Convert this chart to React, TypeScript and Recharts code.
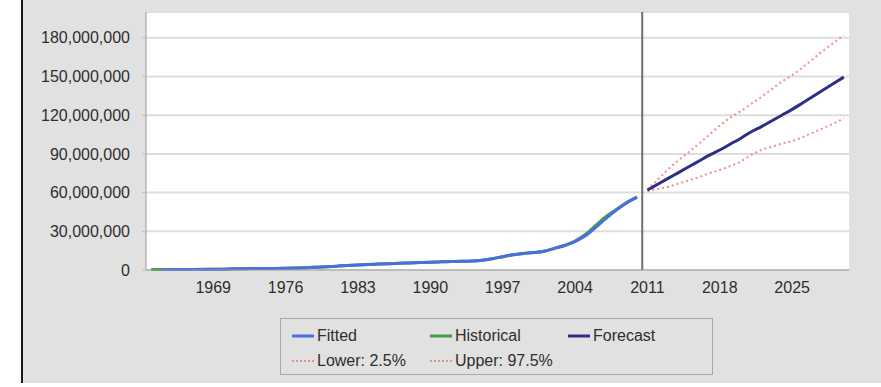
import React from "react";
import {
  LineChart,
  Line,
  XAxis,
  YAxis,
  CartesianGrid,
  ReferenceLine,
  Legend,
} from "recharts";

// Years covered by the chart (history 1963-2010, forecast 2011-2030)
const FIRST_YEAR = 1963;
const LAST_YEAR = 2030;
const years: number[] = Array.from(
  { length: LAST_YEAR - FIRST_YEAR + 1 },
  (_, i) => FIRST_YEAR + i
);

const xTicks = [1969, 1976, 1983, 1990, 1997, 2004, 2011, 2018, 2025];
const yTicks = [0, 30e6, 60e6, 90e6, 120e6, 150e6, 180e6];

// Boundary between the observed period and the forecast
const FORECAST_DIVIDER = 2010.5;

// Observed values, millions, 1963-2010
const historicalStart = 1963;
const historical = [
  0.3, 0.3, 0.35, 0.4, 0.4, 0.45, 0.5, 0.6, 1.0, 1.05, 1.1, 1.15, 1.2, 1.3, 1.5,
  1.8, 2.2, 2.6, 3.0, 3.4, 3.9, 4.3, 4.6, 4.9, 5.2, 5.5, 5.8, 6.1, 6.3, 6.5, 6.7,
  7.0, 7.6, 8.8, 10.3, 11.8, 12.8, 13.5, 14.6, 16.8, 19.0, 22.5, 27.5, 34.5,
  41.5, 47.0, 52.5, 56.5,
];

// Model fit, millions, 1964-2010
const fittedStart = 1964;
const fitted = [
  0.35, 0.4, 0.4, 0.45, 0.5, 0.55, 0.65, 0.95, 1.05, 1.1, 1.15, 1.2, 1.3, 1.5,
  1.8, 2.2, 2.6, 3.0, 3.4, 3.9, 4.3, 4.6, 4.9, 5.2, 5.5, 5.8, 6.1, 6.3, 6.5, 6.7,
  7.0, 7.6, 8.8, 10.3, 11.8, 12.8, 13.5, 14.6, 16.8, 19.0, 22.0, 26.5, 33.0,
  40.0, 46.5, 52.0, 56.5,
];

// Forecast with 95% band, millions, 2011-2030
const forecastStart = 2011;
const forecast = [
  62, 66.5, 71, 75.5, 80, 84.5, 89, 93, 97.5, 102, 107, 111, 115.5, 120, 124.5,
  129.5, 134.5, 139.5, 144.5, 149.5,
];
const lower = [
  61, 63, 64.5, 67, 69.5, 72, 75, 77.5, 80.5, 84, 89, 93, 95.5, 98, 100, 103,
  106.5, 110, 113.5, 117.5,
];
const upper = [
  62, 70, 78, 85, 91.5, 98, 105, 112, 118, 123, 128.5, 134, 140, 146, 151, 157,
  163.5, 170, 176, 182,
];

const at = (arr: number[], start: number, year: number) => {
  const i = year - start;
  return i >= 0 && i < arr.length ? arr[i] * 1e6 : undefined;
};

const rows = years.map((yr) => ({
  year: yr,
  historical: at(historical, historicalStart, yr),
  fitted: at(fitted, fittedStart, yr),
  forecast: at(forecast, forecastStart, yr),
  lower: at(lower, forecastStart, yr),
  upper: at(upper, forecastStart, yr),
}));

const FONT = "'Liberation Sans', Arial, sans-serif";
const TEXT = "#2e2e2e";

const COLORS = {
  fitted: "#4a6ee0",
  historical: "#3f9f3f",
  forecast: "#2b2f86",
  band: "#f08c8c",
};

const legendItems = [
  { label: "Fitted", color: COLORS.fitted, dotted: false },
  { label: "Historical", color: COLORS.historical, dotted: false },
  { label: "Forecast", color: COLORS.forecast, dotted: false },
  { label: "Lower: 2.5%", color: COLORS.band, dotted: true },
  { label: "Upper: 97.5%", color: COLORS.band, dotted: true },
];

const LegendBox = () => (
  <div
    style={{
      width: "100%",
      height: "100%",
      boxSizing: "border-box",
      border: "1px solid #a8a8a8",
      position: "relative",
      fontFamily: FONT,
      fontSize: 16,
      color: TEXT,
    }}
  >
    {legendItems.map((it, i) => {
      const col = i % 3;
      const row = Math.floor(i / 3);
      return (
        <div
          key={it.label}
          style={{
            position: "absolute",
            left: 11 + col * 138,
            top: 7 + row * 25,
            height: 20,
            display: "flex",
            alignItems: "center",
            whiteSpace: "nowrap",
          }}
        >
          <svg width={22} height={6} style={{ marginRight: 3 }}>
            <line
              x1={0}
              y1={3}
              x2={22}
              y2={3}
              stroke={it.color}
              strokeWidth={it.dotted ? 2 : 3}
              strokeDasharray={it.dotted ? "2 2" : undefined}
            />
          </svg>
          <span>{it.label}</span>
        </div>
      );
    })}
  </div>
);

const fmt = (v: number) => v.toLocaleString("en-US");

export default function App() {
  return (
    <div
      style={{
        position: "absolute",
        left: 0,
        top: 0,
        width: 881,
        height: 387,
        background: "#ffffff",
        overflow: "hidden",
      }}
    >
      <div
        style={{
          position: "absolute",
          left: 21,
          top: 0,
          width: 860,
          height: 383,
          background: "#e1e1e1",
          borderLeft: "2px solid #1a1a1a",
          boxSizing: "border-box",
        }}
      />
      <div style={{ position: "absolute", left: 0, top: 0 }}>
        <LineChart
          width={881}
          height={387}
          data={rows}
          margin={{ top: 12, right: 32, bottom: 87, left: 23 }}
        >
          <CartesianGrid
            vertical={false}
            stroke="#dedede"
            strokeWidth={2}
            fill="#ffffff"
          />
          <XAxis
            dataKey="year"
            type="number"
            domain={[FIRST_YEAR - 0.5, LAST_YEAR + 0.5]}
            ticks={xTicks}
            interval={0}
            height={30}
            tickLine={false}
            tickSize={0}
            tickMargin={12}
            axisLine={{ stroke: "#9a9a9a" }}
            tick={{ fill: TEXT, fontSize: 16, fontFamily: FONT }}
          />
          <XAxis
            xAxisId="top"
            orientation="top"
            height={0}
            tick={false}
            tickLine={false}
            axisLine={{ stroke: "#c8c8c8" }}
          />
          <YAxis
            width={123}
            domain={[0, 200e6]}
            ticks={yTicks}
            interval={0}
            tickFormatter={fmt}
            tickSize={4}
            tickMargin={12}
            tickLine={{ stroke: "#c0c0c0" }}
            axisLine={{ stroke: "#9a9a9a" }}
            tick={{ fill: TEXT, fontSize: 16, fontFamily: FONT }}
          />
          <YAxis
            yAxisId="right"
            orientation="right"
            width={0}
            tick={false}
            tickLine={false}
            axisLine={{ stroke: "#c0c0c0" }}
          />
          <ReferenceLine x={FORECAST_DIVIDER} stroke="#6e6e6e" strokeWidth={2} />
          <Line
            dataKey="historical"
            type="monotone"
            stroke={COLORS.historical}
            strokeWidth={3}
            dot={false}
            isAnimationActive={false}
          />
          <Line
            dataKey="fitted"
            type="monotone"
            stroke={COLORS.fitted}
            strokeWidth={3}
            dot={false}
            isAnimationActive={false}
          />
          <Line
            dataKey="lower"
            type="monotone"
            stroke={COLORS.band}
            strokeWidth={2}
            strokeDasharray="2 3"
            dot={false}
            isAnimationActive={false}
          />
          <Line
            dataKey="upper"
            type="monotone"
            stroke={COLORS.band}
            strokeWidth={2}
            strokeDasharray="2 3"
            dot={false}
            isAnimationActive={false}
          />
          <Line
            dataKey="forecast"
            type="monotone"
            stroke={COLORS.forecast}
            strokeWidth={3}
            dot={false}
            isAnimationActive={false}
          />
          <Legend
            verticalAlign="middle"
            align="center"
            layout="horizontal"
            content={() => <LegendBox />}
            wrapperStyle={{ left: 280, top: 318, width: 433, height: 57 }}
          />
        </LineChart>
      </div>
    </div>
  );
}
